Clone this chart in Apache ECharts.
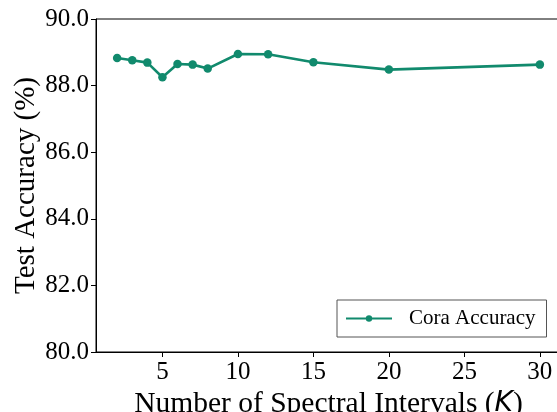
<!DOCTYPE html>
<html>
<head>
<meta charset="utf-8">
<script src="https://cdn.jsdelivr.net/npm/echarts@6/dist/echarts.min.js"></script>
<style>
  html, body { margin: 0; padding: 0; background: #fff; }
  #chart { width: 557px; height: 412px; }
</style>
</head>
<body>
<div id="chart"></div>
<script>
// Number of spectral intervals K and the Cora test accuracy at each
const intervals = [2, 3, 4, 5, 6, 7, 8, 10, 12, 15, 20, 30];
const coraAccuracy = [88.83, 88.76, 88.69, 88.25, 88.65, 88.63, 88.51, 88.95, 88.94, 88.70, 88.48, 88.63];
const xTicks = [5, 10, 15, 20, 25, 30];
const yTicks = [80, 82, 84, 86, 88, 90];

const serif = "'Liberation Serif', 'Times New Roman', serif";
const green = '#118a6d';

const chart = echarts.init(document.getElementById('chart'), null, { renderer: 'canvas' });

chart.setOption({
  animation: false,
  backgroundColor: '#ffffff',
  grid: {
    left: 96, right: -4, top: 19, bottom: 60,
    show: true, borderColor: '#000', borderWidth: 1,
    containLabel: false,
    outerBoundsMode: 'none'
  },
  xAxis: {
    type: 'value',
    min: 0.6,
    max: 31.4,
    name: 'Number of Spectral Intervals ({k|K})',
    nameLocation: 'middle',
    nameGap: 37,
    nameMoveOverlap: false,
    nameTextStyle: {
      fontFamily: serif, fontSize: 29.5, color: '#000', verticalAlign: 'top',
      rich: { k: { fontFamily: 'DejaVu Sans', fontStyle: 'italic', fontSize: 28, color: '#000' } }
    },
    axisLine: { onZero: false, lineStyle: { color: '#000', width: 1 } },
    axisTick: { show: true, inside: false, length: 5, customValues: xTicks, lineStyle: { color: '#000' } },
    axisLabel: { customValues: xTicks, fontFamily: serif, fontSize: 25, color: '#000', margin: 8 },
    splitLine: { show: false }
  },
  yAxis: {
    type: 'value',
    min: 80,
    max: 90,
    interval: 2,
    name: 'Test Accuracy (%)',
    nameLocation: 'middle',
    nameRotate: 90,
    nameGap: 55,
    nameMoveOverlap: false,
    nameTextStyle: { fontFamily: serif, fontSize: 29, color: '#000' },
    axisLine: { show: true, onZero: false, lineStyle: { color: '#000', width: 1 } },
    axisTick: { show: true, inside: false, length: 5, customValues: yTicks, lineStyle: { color: '#000' } },
    axisLabel: {
      customValues: yTicks,
      fontFamily: serif, fontSize: 25, color: '#000', margin: 7,
      formatter: v => Number(v).toFixed(1)
    },
    splitLine: { show: false }
  },
  legend: {
    data: ['Cora Accuracy'],
    left: 337,
    top: 300,
    orient: 'vertical',
    backgroundColor: '#fff',
    borderColor: '#555',
    borderWidth: 1,
    borderRadius: 0,
    padding: [8, 11, 8, 8],
    itemWidth: 46,
    itemHeight: 8,
    textStyle: { fontFamily: serif, fontSize: 21, color: '#000', padding: [0, 0, 0, 12] }
  },
  series: [{
    name: 'Cora Accuracy',
    type: 'line',
    data: intervals.map((k, i) => [k, coraAccuracy[i]]),
    symbol: 'circle',
    symbolSize: 8.5,
    showSymbol: true,
    lineStyle: { color: green, width: 2.6 },
    itemStyle: { color: green },
    clip: false
  }]
});
</script>
</body>
</html>
